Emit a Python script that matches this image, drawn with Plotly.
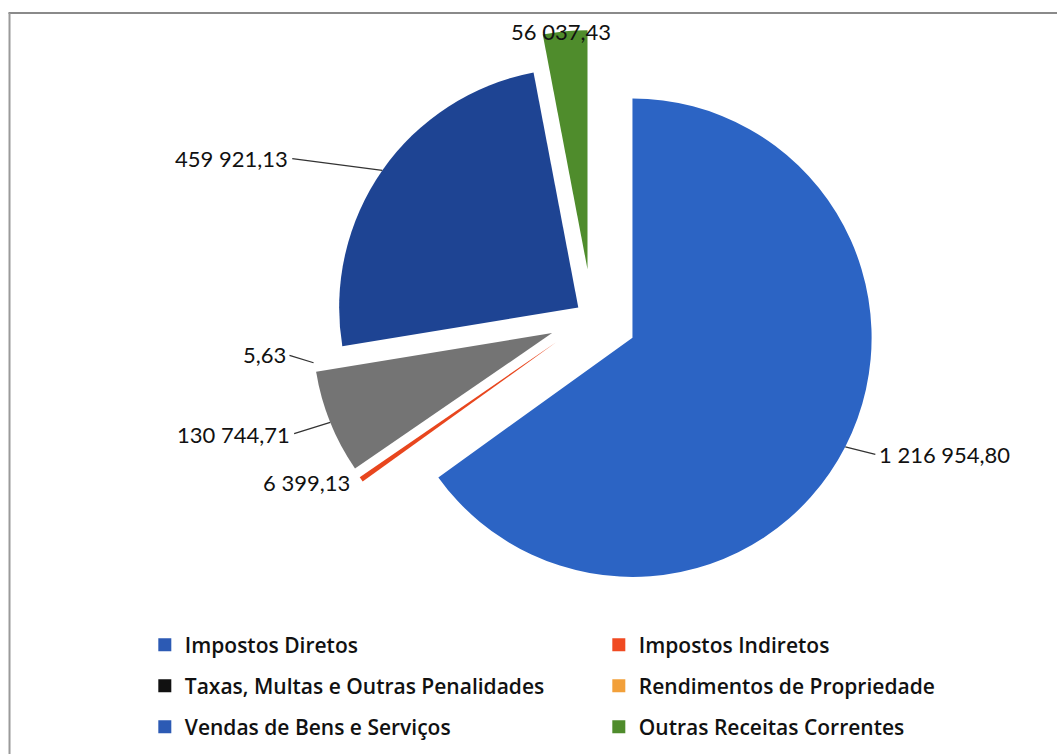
import math
import plotly.graph_objects as go

categories = ["Impostos Diretos", "Impostos Indiretos", "Taxas, Multas e Outras Penalidades",
              "Rendimentos de Propriedade", "Vendas de Bens e Serviços", "Outras Receitas Correntes"]
values = [1216954.80, 6399.13, 130744.71, 5.63, 459921.13, 56037.43]

# styling (not data)
colors = ["#2C64C4", "#E8461E", "#747474", "#F2A03A", "#1E4493", "#4F8C2C"]
legend_colors = ["#2C5AB4", "#F04A22", "#111111", "#F2A03A", "#2C5AB4", "#4F8C2C"]
legend_rows = ["legend", "legend", "legend2", "legend2", "legend3", "legend3"]
pulls = [0.19, 0.18, 0.18, 0.18, 0.07, 0.20]
# label offsets in px from the slice edge point (Excel-like callouts)
label_dx = [32, -9, -38, -26, -92, -4]
label_dy = [8, 3, 12, -8, -12, 0]
label_anchor = ["left", "right", "right", "right", "right", "center"]
leader = [True, False, True, True, True, False]

W, H = 1057, 754
dom_x = [0.2886, 0.8316]
dom_y = [0.1989, 0.9602]


def fmt(v):
    s = f"{v:,.2f}"
    return s.replace(",", " ").replace(".", ",")


fig = go.Figure(go.Pie(
    labels=categories,
    values=values,
    textinfo="none",
    marker=dict(colors=colors),
    sort=False,
    direction="clockwise",
    rotation=0,
    pull=pulls,
    domain=dict(x=dom_x, y=dom_y),
    hoverinfo="label+value",
    showlegend=False,
))

# geometry of the pie as plotly computes it (margins are zero)
box_w = W * (dom_x[1] - dom_x[0])
box_h = H * (dom_y[1] - dom_y[0])
r = min(box_w, box_h) / 2 / (1 + max(pulls))
cx = W * (dom_x[0] + dom_x[1]) / 2
cy = H * (1 - dom_y[0]) - box_h / 2

total = sum(values)
annotations = []
cum = 0.0
for i, v in enumerate(values):
    mid = (cum + v / 2) / total * 2 * math.pi
    cum += v
    rr = r * (1 + pulls[i])
    px = cx + rr * math.sin(mid)
    py = cy - rr * math.cos(mid)
    annotations.append(dict(
        x=px / W, y=1 - py / H, xref="paper", yref="paper",
        text=fmt(v), showarrow=True,
        ax=label_dx[i], ay=label_dy[i], axref="pixel", ayref="pixel",
        xanchor=label_anchor[i], yanchor="middle",
        arrowhead=0, arrowwidth=1.3,
        arrowcolor="#333333" if leader[i] else "rgba(0,0,0,0)",
        standoff=0, startstandoff=2,
        font=dict(family="Lato", size=22, color="#111111"),
    ))

for cat, col, lg in zip(categories, legend_colors, legend_rows):
    fig.add_trace(go.Scatter(
        x=[None], y=[None], mode="markers", name=cat,
        marker=dict(symbol="square", size=13, color=col),
        legend=lg, showlegend=True, hoverinfo="skip",
    ))

leg_common = dict(
    orientation="h", x=0.137, xanchor="left", yanchor="middle",
    entrywidth=409, entrywidthmode="pixels",
    font=dict(family="Open Sans", size=21, color="#111111", weight=600),
    bgcolor="rgba(0,0,0,0)",
)
fig.update_layout(
    width=W, height=H,
    margin=dict(l=0, r=0, t=0, b=0, autoexpand=False),
    paper_bgcolor="white",
    plot_bgcolor="white",
    font=dict(family="Lato", color="#111111"),
    xaxis=dict(visible=False), yaxis=dict(visible=False),
    legend=dict(leg_common, y=1 - 645 / H),
    legend2=dict(leg_common, y=1 - 686 / H),
    legend3=dict(leg_common, y=1 - 727 / H),
    annotations=annotations,
    shapes=[
        dict(type="line", xref="paper", yref="paper", x0=0.008, x1=1, y0=1 - 13 / H, y1=1 - 13 / H,
             line=dict(color="#8a8a8a", width=2)),
        dict(type="line", xref="paper", yref="paper", x0=0.009, x1=0.009, y0=0, y1=1 - 13 / H,
             line=dict(color="#9a9a9a", width=2)),
    ],
)

fig.write_html("out.html", config={"displayModeBar": False},
               post_script="document.body.style.margin='0';")
